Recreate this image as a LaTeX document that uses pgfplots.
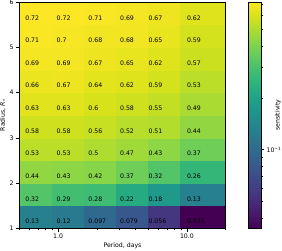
\documentclass[border=0pt]{standalone}
\usepackage{fontspec}
\setmainfont{DejaVu Sans}
\usepackage{pgfplots}
\pgfplotsset{compat=1.18}
\usepackage{pgfplotstable}

% grid of cell corners: colour of each cell = value at its lower-left corner
\pgfplotstableread{
x y c
0.5 1.0 0.13
0.9 1.0 0.12
1.6 1.0 0.097
2.85 1.0 0.079
5.05 1.0 0.056
8.9 1.0 0.035
20 1.0 0.035
0.5 1.5 0.32
0.9 1.5 0.29
1.6 1.5 0.28
2.85 1.5 0.22
5.05 1.5 0.18
8.9 1.5 0.13
20 1.5 0.13
0.5 2.0 0.44
0.9 2.0 0.43
1.6 2.0 0.42
2.85 2.0 0.37
5.05 2.0 0.32
8.9 2.0 0.26
20 2.0 0.26
0.5 2.5 0.53
0.9 2.5 0.53
1.6 2.5 0.50
2.85 2.5 0.47
5.05 2.5 0.43
8.9 2.5 0.37
20 2.5 0.37
0.5 3.0 0.58
0.9 3.0 0.58
1.6 3.0 0.56
2.85 3.0 0.52
5.05 3.0 0.51
8.9 3.0 0.44
20 3.0 0.44
0.5 3.5 0.63
0.9 3.5 0.63
1.6 3.5 0.60
2.85 3.5 0.58
5.05 3.5 0.55
8.9 3.5 0.49
20 3.5 0.49
0.5 4.0 0.66
0.9 4.0 0.67
1.6 4.0 0.64
2.85 4.0 0.62
5.05 4.0 0.59
8.9 4.0 0.53
20 4.0 0.53
0.5 4.5 0.69
0.9 4.5 0.69
1.6 4.5 0.67
2.85 4.5 0.65
5.05 4.5 0.62
8.9 4.5 0.57
20 4.5 0.57
0.5 5.0 0.71
0.9 5.0 0.70
1.6 5.0 0.68
2.85 5.0 0.68
5.05 5.0 0.65
8.9 5.0 0.59
20 5.0 0.59
0.5 5.5 0.72
0.9 5.5 0.72
1.6 5.5 0.71
2.85 5.5 0.69
5.05 5.5 0.67
8.9 5.5 0.62
20 5.5 0.62
0.5 6.0 0.72
0.9 6.0 0.72
1.6 6.0 0.71
2.85 6.0 0.69
5.05 6.0 0.67
8.9 6.0 0.62
20 6.0 0.62
}\grid

\pgfplotstableread{
x y t
0.555 1.1 0.13
0.972 1.1 0.12
1.713 1.1 0.097
3.02 1.1 0.079
5.02 1.1 0.056
9.98 1.1 0.035
0.555 1.6 0.32
0.972 1.6 0.29
1.713 1.6 0.28
3.02 1.6 0.22
5.02 1.6 0.18
9.98 1.6 0.13
0.555 2.1 0.44
0.972 2.1 0.43
1.713 2.1 0.42
3.02 2.1 0.37
5.02 2.1 0.32
9.98 2.1 0.26
0.555 2.6 0.53
0.972 2.6 0.53
1.713 2.6 0.5
3.02 2.6 0.47
5.02 2.6 0.43
9.98 2.6 0.37
0.555 3.1 0.58
0.972 3.1 0.58
1.713 3.1 0.56
3.02 3.1 0.52
5.02 3.1 0.51
9.98 3.1 0.44
0.555 3.6 0.63
0.972 3.6 0.63
1.713 3.6 0.6
3.02 3.6 0.58
5.02 3.6 0.55
9.98 3.6 0.49
0.555 4.1 0.66
0.972 4.1 0.67
1.713 4.1 0.64
3.02 4.1 0.62
5.02 4.1 0.59
9.98 4.1 0.53
0.555 4.6 0.69
0.972 4.6 0.69
1.713 4.6 0.67
3.02 4.6 0.65
5.02 4.6 0.62
9.98 4.6 0.57
0.555 5.1 0.71
0.972 5.1 0.7
1.713 5.1 0.68
3.02 5.1 0.68
5.02 5.1 0.65
9.98 5.1 0.59
0.555 5.6 0.72
0.972 5.6 0.72
1.713 5.6 0.71
3.02 5.6 0.69
5.02 5.6 0.67
9.98 5.6 0.62
}\labels

\pgfplotsset{
  scale only axis,
  tick align=outside,
  major tick length=3.5pt,
  minor tick length=2pt,
  tick style={black, line width=0.5pt},
  axis line style={line width=0.5pt},
  /pgf/number format/assume math mode=true,
}

\begin{document}
\fontsize{6.2}{7.4}\selectfont
\begin{tikzpicture}
\begin{axis}[
  name=main,
  width=206.4pt, height=226.3pt,
  xmode=log, xmin=0.5, xmax=20, ymin=1, ymax=6,
  xtick={1,10}, xticklabels={1.0,10.0},
  minor xtick={0.5,0.6,0.7,0.8,0.9,2,3,4,5,6,7,8,9,20},
  ytick={1,2,3,4,5,6},
  xtick pos=bottom, ytick pos=left,
  xlabel={Period, days},
  ylabel={Radius, \textit{R}\textsubscript{*}},
  every axis x label/.style={at={(axis description cs:0.5,-0.077)}, anchor=center},
  every axis y label/.style={at={(axis description cs:-0.078,0.5)}, rotate=90, anchor=center},
  colormap/viridis,
  point meta min=-1.4559, point meta max=-0.1427,
  axis on top,
  colorbar,
  colorbar style={
    at={(parent axis.north east)}, anchor=north west, xshift=14.3pt,
    width=12.3pt,
    ytick={-1}, yticklabels={10\textsuperscript{−1}},
    minor ytick={-1.39794,-1.30103,-1.22185,-1.15490,-1.09691,-1.04576,-0.69897,-0.52288,-0.39794,-0.30103,-0.22185,-0.15490},
    ytick pos=right, yticklabel pos=right,
  },
]
\addplot[surf, shader=flat corner, mesh/cols=7, point meta=explicit]
  table[x=x, y=y, meta expr={log10(\thisrow{c})}] {\grid};
\addplot[draw=none, mark=none, nodes near coords, point meta=explicit symbolic,
  nodes near coords style={anchor=base west, inner sep=0pt, text=black}]
  table[x=x, y=y, meta=t] {\labels};
\end{axis}
% colour bar title
\node[rotate=90, anchor=center, inner sep=0pt] at ([xshift=52.3pt]main.east) {sensitivity};
\pgfresetboundingbox
\useasboundingbox (main.south west) ++(-19.3pt,-22.7pt) rectangle ++(282pt,251pt);
\end{tikzpicture}
\end{document}
